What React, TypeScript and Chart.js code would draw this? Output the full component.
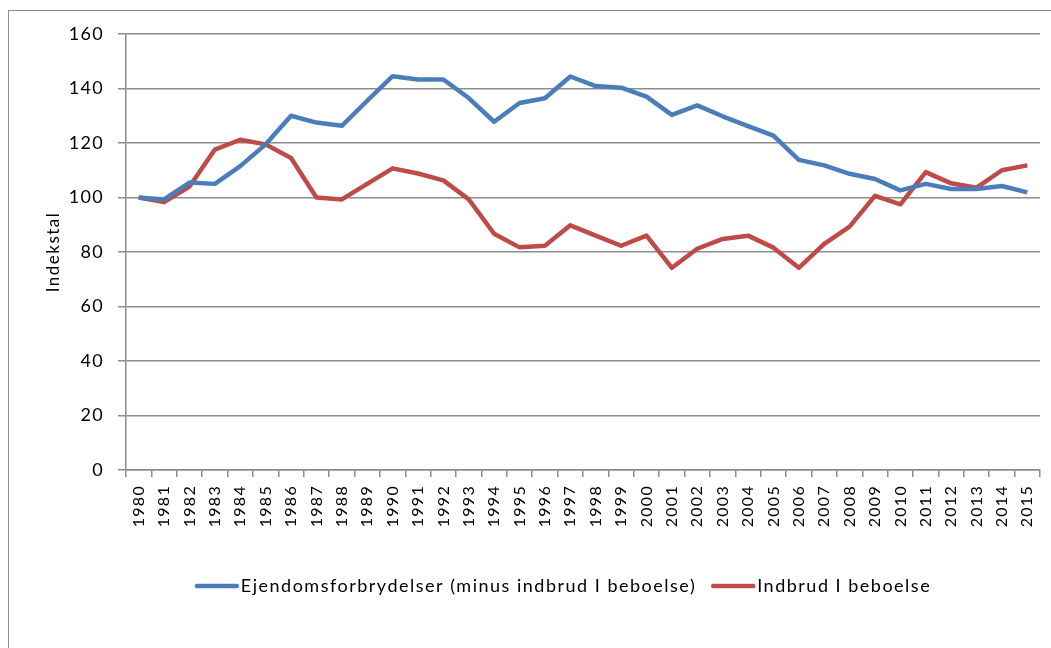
import React, { useEffect, useRef } from "react";
import { Chart, registerables } from "chart.js";

Chart.register(...registerables);

const years = ["1980","1981","1982","1983","1984","1985","1986","1987","1988","1989","1990","1991","1992","1993","1994","1995","1996","1997","1998","1999","2000","2001","2002","2003","2004","2005","2006","2007","2008","2009","2010","2011","2012","2013","2014","2015"];

const ejendom = [100, 99.3, 105.5, 105, 111.5, 119.5, 130, 127.5, 126.3, 135.5, 144.5, 143.3, 143.3,
  136.5, 127.8, 134.7, 136.4, 144.4, 140.9, 140.3, 137, 130.3, 133.8, 129.8, 126.2, 122.7,
  113.8, 111.8, 108.7, 106.8, 102.6, 105, 103.1, 103.1, 104.2, 101.9];

const indbrud = [100, 98.3, 104, 117.6, 121.2, 119.5, 114.5, 100, 99.3, 105, 110.7, 108.8, 106.3,
  99.3, 86.7, 81.7, 82.3, 89.8, 86, 82.3, 86, 74.2, 81.2, 84.8, 86, 81.6,
  74.2, 83, 89.3, 100.6, 97.5, 109.3, 105.2, 103.6, 110, 111.8];

const seriesNames = ["Ejendomsforbrydelser (minus indbrud I beboelse)", "Indbrud I beboelse"];
const yTitle = "Indekstal";

const FONT = "Lato, 'Noto Sans', sans-serif";
const BLUE = "#4a7ebb";
const RED = "#be4b48";
const GRID = "#8c8c8c";

const spacingPlugin = {
  id: "spacing",
  beforeDraw(chart: any) {
    (chart.ctx as any).letterSpacing = "1.3px";
  },
};

const legendPlugin = {
  id: "customLegend",
  afterDraw(chart: any) {
    const ctx = chart.ctx;
    const ds = chart.data.datasets;
    ctx.save();
    (ctx as any).letterSpacing = "1.5px";
    ctx.font = `18px ${FONT}`;
    ctx.textBaseline = "middle";
    const lineW = 44;
    const gapText = 2;
    const gapItem = 15;
    const widths = ds.map((d: any) => ctx.measureText(d.label).width);
    let total = 0;
    widths.forEach((w: number, i: number) => {
      total += lineW + gapText + w + (i < widths.length - 1 ? gapItem : 0);
    });
    const centerX = 563;
    const y = 586;
    let x = centerX - total / 2;
    ds.forEach((d: any, i: number) => {
      ctx.strokeStyle = d.borderColor;
      ctx.lineWidth = 4.5;
      ctx.lineCap = "round";
      ctx.beginPath();
      ctx.moveTo(x + 2, y);
      ctx.lineTo(x + lineW - 2, y);
      ctx.stroke();
      ctx.fillStyle = "#000";
      ctx.textAlign = "left";
      ctx.fillText(d.label, x + lineW + gapText, y);
      x += lineW + gapText + widths[i] + gapItem;
    });
    // y axis title
    ctx.font = `17px ${FONT}`;
    ctx.translate(54, (chart.chartArea.top + chart.chartArea.bottom) / 2);
    ctx.rotate(-Math.PI / 2);
    ctx.textAlign = "center";
    ctx.textBaseline = "middle";
    ctx.fillText(yTitle, 0, 0);
    ctx.restore();
  },
};

export default function App() {
  const ref = useRef<HTMLCanvasElement | null>(null);
  useEffect(() => {
    if (!ref.current) return;
    const chart = new Chart(ref.current, {
      type: "line",
      data: {
        labels: years,
        datasets: [
          { label: seriesNames[0], data: ejendom, borderColor: BLUE, backgroundColor: BLUE, borderWidth: 4.5, pointRadius: 0, tension: 0, borderJoinStyle: "round" as any },
          { label: seriesNames[1], data: indbrud, borderColor: RED, backgroundColor: RED, borderWidth: 4.5, pointRadius: 0, tension: 0, borderJoinStyle: "round" as any },
        ],
      },
      options: {
        responsive: false,
        animation: false,
        devicePixelRatio: 1,
        layout: { padding: { left: 0, right: 11, top: 34, bottom: 108 } },
        plugins: { legend: { display: false }, tooltip: { enabled: false } },
        scales: {
          x: {
            offset: true,
            grid: { display: true, drawOnChartArea: false, drawTicks: true, tickLength: 7, offset: true, color: GRID, lineWidth: 1.5 },
            border: { display: true, color: GRID, width: 1.5 },
            ticks: { autoSkip: false, minRotation: 90, maxRotation: 90, padding: 8, color: "#000", font: { family: FONT, size: 16 } },
            afterFit(scale: any) { scale.height = 70; scale.paddingLeft = 0; scale.paddingRight = 0; },
          },
          y: {
            min: 0,
            max: 160,
            ticks: { stepSize: 20, padding: 14, color: "#000", font: { family: FONT, size: 18 } },
            grid: { color: GRID, lineWidth: 1.5, tickLength: 8 },
            border: { display: true, color: GRID, width: 1.5 },
            title: { display: false },
            afterFit(scale: any) { scale.width = 126; scale.paddingTop = 0; scale.paddingBottom = 0; },
          },
        },
      },
      plugins: [spacingPlugin, legendPlugin],
    });
    return () => chart.destroy();
  }, []);
  return (
    <>
      <div style={{ position: "fixed", left: 8, top: 10, width: 1100, height: 700, border: "1px solid #8c8c8c", boxSizing: "border-box" }} />
      <canvas ref={ref} width={1051} height={648} style={{ position: "fixed", left: 0, top: 0 }} />
    </>
  );
}
